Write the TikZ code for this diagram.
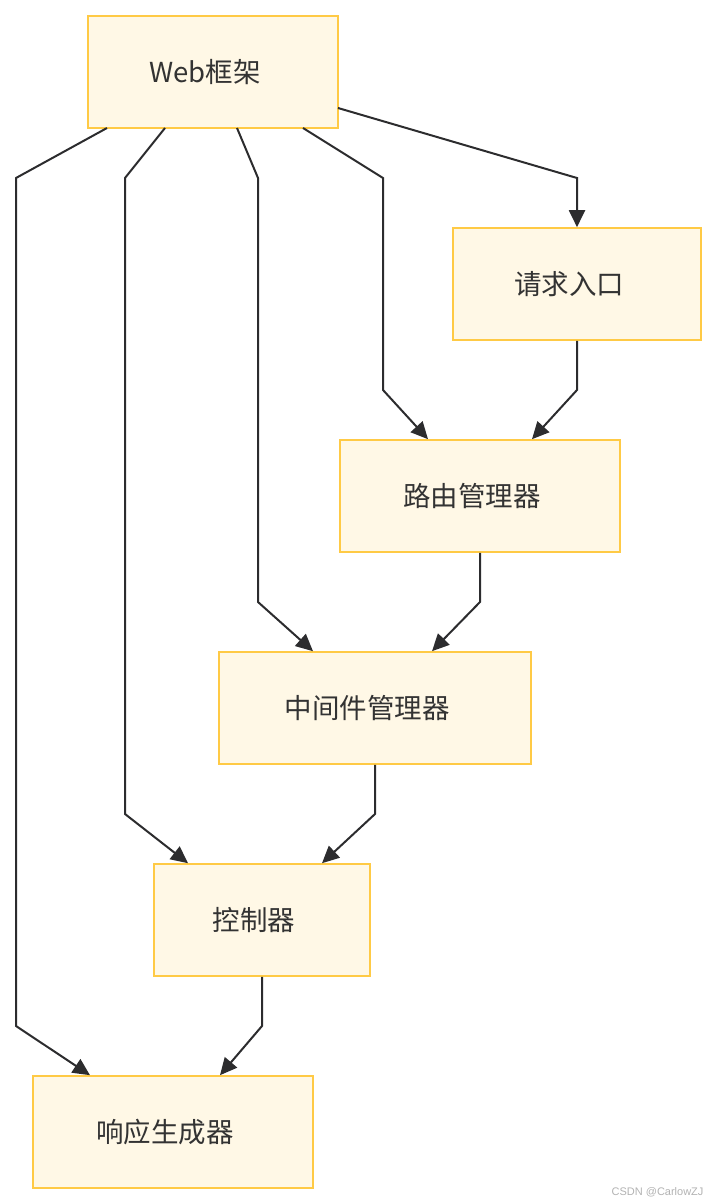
\documentclass[tikz,border=0pt]{standalone}
\usepackage{fontspec}
\setmainfont{Noto Sans CJK SC}
\newfontfamily\wmfont{Liberation Sans}
\usetikzlibrary{arrows.meta}
\definecolor{boxfill}{HTML}{FFF8E6}
\definecolor{boxline}{HTML}{FFCA45}
\definecolor{edgecol}{HTML}{2C2C2E}
\definecolor{txtcol}{HTML}{333333}
\tikzset{
  box/.style={draw=boxline, fill=boxfill, line width=1.6pt, text=txtcol,
    inner sep=0pt, font=\fontsize{27.5}{32}\selectfont,
    minimum height=112pt, execute at end node={\kern16pt}},
  edge/.style={draw=edgecol, line width=2pt, line join=miter,
    -{Triangle[length=17pt,width=16pt]}}
}
\begin{document}
\begin{tikzpicture}[x=1pt,y=-1pt]
\useasboundingbox (0,0) rectangle (718,1204);
\node[box, minimum width=250pt] (web) at (213,72) {Web框架};
\node[box, minimum width=248pt] (req) at (577,284) {请求入口};
\node[box, minimum width=280pt] (route) at (480,496) {路由管理器};
\node[box, minimum width=312pt] (mid) at (375,708) {中间件管理器};
\node[box, minimum width=216pt] (ctrl) at (262,920) {控制器};
\node[box, minimum width=280pt] (resp) at (173,1132) {响应生成器};

\coordinate (w1) at (338,108);
\coordinate (w2) at (303,128);
\coordinate (w3) at (237,128);
\coordinate (w4) at (165,128);
\coordinate (w5) at (107,128);

\draw[edge] (w1) -- (577,178) -- (req.north);
\draw[edge] (w2) -- (383,178) -- (383,390) -- (route.north west -| 428,0);
\draw[edge] (w3) -- (258,178) -- (258,602) -- (mid.north west -| 313,0);
\draw[edge] (w4) -- (125,178) -- (125,814) -- (ctrl.north west -| 188,0);
\draw[edge] (w5) -- (16,178) -- (16,1026) -- (resp.north west -| 90,0);
\draw[edge] (req.south) -- (577,390) -- (route.north west -| 532,0);
\draw[edge] (route.south) -- (480,602) -- (mid.north west -| 432,0);
\draw[edge] (mid.south) -- (375,814) -- (ctrl.north west -| 322,0);
\draw[edge] (ctrl.south) -- (262,1026) -- (resp.north west -| 220,0);

\node[text=black!30, font=\wmfont\fontsize{11}{13}\selectfont, anchor=east] (wm) at (707,1192) {CSDN @CarlowZJ};
\end{tikzpicture}
\end{document}
